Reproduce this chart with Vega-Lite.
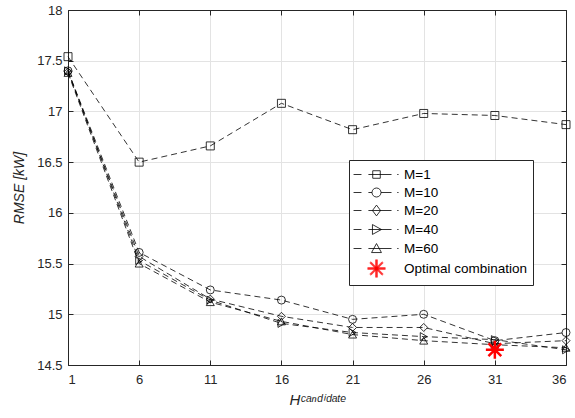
{
  "$schema": "https://vega.github.io/schema/vega-lite/v6.json",
  "width": 498,
  "height": 355,
  "autosize": {"type": "none"},
  "padding": {"left": 68, "top": 10, "right": 9, "bottom": 53},
  "background": "white",
  "config": {
    "font": "Liberation Sans",
    "view": {"stroke": null},
    "axis": {
      "labelFont": "Liberation Sans",
      "labelFontSize": 13,
      "labelColor": "#262626",
      "titleFont": "Liberation Sans",
      "titleFontSize": 14,
      "titleFontWeight": "normal",
      "titleColor": "#262626",
      "domainColor": "#262626",
      "domainWidth": 1,
      "tickColor": "#262626",
      "tickSize": -5,
      "gridColor": "#e3e3e3",
      "gridWidth": 1
    },
    "legend": {
      "orient": "none",
      "legendX": 281,
      "legendY": 150,
      "padding": 5,
      "strokeColor": "#262626",
      "fillColor": "white",
      "cornerRadius": 0,
      "labelFont": "Liberation Sans",
      "labelFontSize": 13.5,
      "labelColor": "#000000",
      "symbolSize": 324,
      "symbolStrokeWidth": 0.8,
      "symbolOffset": 13,
      "labelOffset": 18,
      "rowPadding": 2
    }
  },
  "data": {
    "values": [
      {"h": 1, "rmse": 17.54, "M": "M=1"},
      {"h": 6, "rmse": 16.50, "M": "M=1"},
      {"h": 11, "rmse": 16.66, "M": "M=1"},
      {"h": 16, "rmse": 17.08, "M": "M=1"},
      {"h": 21, "rmse": 16.82, "M": "M=1"},
      {"h": 26, "rmse": 16.98, "M": "M=1"},
      {"h": 31, "rmse": 16.96, "M": "M=1"},
      {"h": 36, "rmse": 16.87, "M": "M=1"},
      {"h": 1, "rmse": 17.40, "M": "M=10"},
      {"h": 6, "rmse": 15.61, "M": "M=10"},
      {"h": 11, "rmse": 15.24, "M": "M=10"},
      {"h": 16, "rmse": 15.14, "M": "M=10"},
      {"h": 21, "rmse": 14.95, "M": "M=10"},
      {"h": 26, "rmse": 15.00, "M": "M=10"},
      {"h": 31, "rmse": 14.74, "M": "M=10"},
      {"h": 36, "rmse": 14.82, "M": "M=10"},
      {"h": 1, "rmse": 17.39, "M": "M=20"},
      {"h": 6, "rmse": 15.57, "M": "M=20"},
      {"h": 11, "rmse": 15.15, "M": "M=20"},
      {"h": 16, "rmse": 14.98, "M": "M=20"},
      {"h": 21, "rmse": 14.87, "M": "M=20"},
      {"h": 26, "rmse": 14.87, "M": "M=20"},
      {"h": 31, "rmse": 14.71, "M": "M=20"},
      {"h": 36, "rmse": 14.74, "M": "M=20"},
      {"h": 1, "rmse": 17.40, "M": "M=40"},
      {"h": 6, "rmse": 15.53, "M": "M=40"},
      {"h": 11, "rmse": 15.14, "M": "M=40"},
      {"h": 16, "rmse": 14.91, "M": "M=40"},
      {"h": 21, "rmse": 14.82, "M": "M=40"},
      {"h": 26, "rmse": 14.78, "M": "M=40"},
      {"h": 31, "rmse": 14.75, "M": "M=40"},
      {"h": 36, "rmse": 14.65, "M": "M=40"},
      {"h": 1, "rmse": 17.38, "M": "M=60"},
      {"h": 6, "rmse": 15.50, "M": "M=60"},
      {"h": 11, "rmse": 15.12, "M": "M=60"},
      {"h": 16, "rmse": 14.93, "M": "M=60"},
      {"h": 21, "rmse": 14.80, "M": "M=60"},
      {"h": 26, "rmse": 14.74, "M": "M=60"},
      {"h": 31, "rmse": 14.70, "M": "M=60"},
      {"h": 36, "rmse": 14.67, "M": "M=60"},
      {"h": 31, "rmse": 14.65, "M": "Optimal combination"}
    ]
  },
  "layer": [
    {
      "transform": [{"filter": "datum.M !== 'Optimal combination'"}],
      "mark": {"type": "line", "stroke": "#000000", "strokeWidth": 0.8, "strokeDash": [6, 4]},
      "encoding": {
        "x": {
          "field": "h", "type": "quantitative",
          "scale": {"domain": [1, 36], "nice": false, "zero": false},
          "axis": {"orient": "bottom", "values": [1, 6, 11, 16, 21, 26, 31, 36], "grid": true, "labelPadding": 13, "title": "Hᶜᵃⁿᵈⁱᵈᵃᵗᵉ", "titleFontStyle": "italic", "titleFontSize": 15, "titlePadding": 6}
        },
        "y": {
          "field": "rmse", "type": "quantitative",
          "scale": {"domain": [14.5, 18], "nice": false, "zero": false},
          "axis": {"orient": "left", "values": [14.5, 15, 15.5, 16, 16.5, 17, 17.5, 18], "format": "~g", "grid": true, "labelPadding": 11, "title": "RMSE [kW]", "titleFontStyle": "italic", "titlePadding": 10}
        },
        "detail": {"field": "M"}
      }
    },
    {
      "mark": {"type": "point", "filled": false, "size": 0, "strokeWidth": 0.8, "opacity": 1},
      "encoding": {
        "x": {"field": "h", "type": "quantitative", "axis": null},
        "y": {"field": "rmse", "type": "quantitative", "axis": null},
        "shape": {
          "field": "M", "type": "nominal",
          "scale": {
            "domain": ["M=1", "M=10", "M=20", "M=40", "M=60", "Optimal combination"],
            "range": [
              "M-2.55,0H-1.67M-0.9,0H1.67M2.3,0H2.45M-0.42,-0.42H0.42V0.42H-0.42Z",
              "M-2.55,0H-1.67M-0.9,0H-0.5M0.5,0H1.67M2.3,0H2.45M0.5,0A0.5,0.5,0,1,1,-0.5,0A0.5,0.5,0,1,1,0.5,0",
              "M-2.55,0H-1.67M-0.9,0H1.67M2.3,0H2.45M0,-0.6L0.45,0L0,0.6L-0.45,0Z",
              "M-2.55,0H-1.67M-0.9,0H1.67M2.3,0H2.45M-0.45,-0.55L0.55,0L-0.45,0.55Z",
              "M-2.55,0H-1.67M-0.9,0H1.67M2.3,0H2.45M0,-0.55L0.55,0.45L-0.55,0.45Z",
              "M-0.09,-1V1M0,-1V1M0.09,-1V1M-1,-0.09H1M-1,0H1M-1,0.09H1M-0.7,-0.7L0.7,0.7M-0.636,-0.764L0.764,0.636M-0.764,-0.636L0.636,0.764M-0.7,0.7L0.7,-0.7M-0.636,0.764L0.764,-0.636M-0.764,0.636L0.636,-0.764"
            ]
          },
          "legend": {"title": null}
        },
        "color": {
          "field": "M", "type": "nominal",
          "scale": {
            "domain": ["M=1", "M=10", "M=20", "M=40", "M=60", "Optimal combination"],
            "range": ["#000000", "#000000", "#000000", "#000000", "#000000", "#ff0000"]
          },
          "legend": {"title": null}
        }
      }
    },
    {
      "mark": {"type": "point", "filled": false, "size": 64, "strokeWidth": 0.8, "opacity": 1},
      "encoding": {
        "x": {
          "field": "h", "type": "quantitative",
          "axis": {"orient": "top", "values": [1, 6, 11, 16, 21, 26, 31, 36], "grid": false, "labels": false, "title": null}
        },
        "y": {
          "field": "rmse", "type": "quantitative",
          "axis": {"orient": "right", "values": [14.5, 15, 15.5, 16, 16.5, 17, 17.5, 18], "grid": false, "labels": false, "title": null}
        },
        "shape": {
          "field": "M", "type": "nominal",
          "scale": {
            "domain": ["M=1", "M=10", "M=20", "M=40", "M=60", "Optimal combination"],
            "range": ["square", "circle", "diamond", "triangle-right", "triangle-up", "M0,-2.25V2.25M-2.25,0H2.25M-1.6,-1.6L1.6,1.6M-1.6,1.6L1.6,-1.6"]
          },
          "legend": null
        },
        "color": {
          "field": "M", "type": "nominal",
          "scale": {
            "domain": ["M=1", "M=10", "M=20", "M=40", "M=60", "Optimal combination"],
            "range": ["#000000", "#000000", "#000000", "#000000", "#000000", "#ff0000"]
          },
          "legend": null
        },
        "strokeWidth": {
          "condition": {"test": "datum.M === 'Optimal combination'", "value": 2.5},
          "value": 0.8
        }
      }
    }
  ],
  "resolve": {
    "axis": {"x": "independent", "y": "independent"},
    "scale": {"shape": "independent", "color": "independent"},
    "legend": {"shape": "independent", "color": "independent"}
  }
}
